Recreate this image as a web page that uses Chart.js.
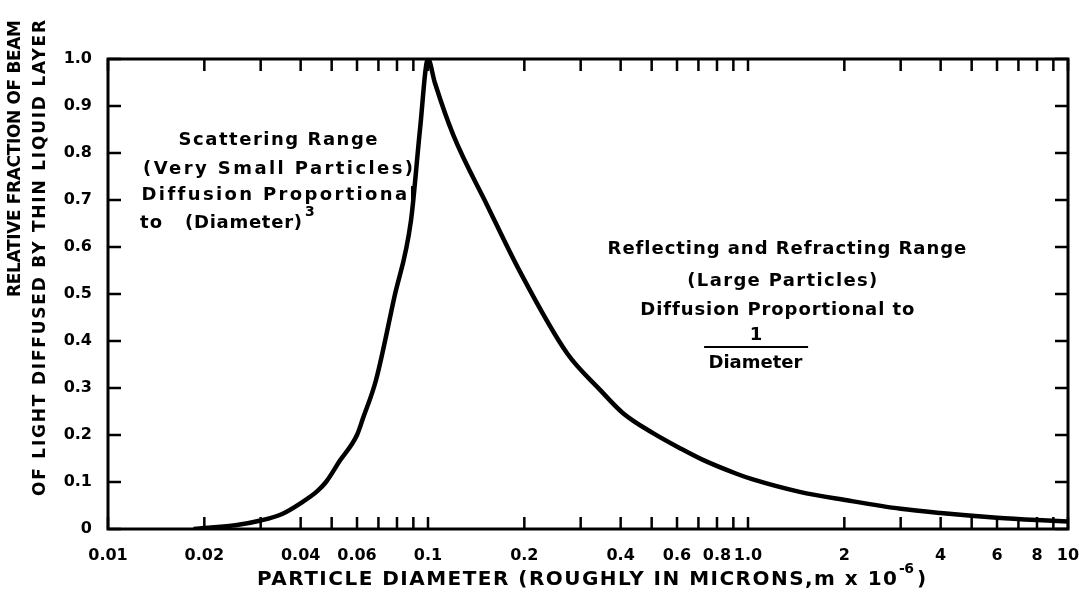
<!DOCTYPE html>
<html>
<head>
<meta charset="utf-8">
<script src="https://cdn.jsdelivr.net/npm/chart.js@4"></script>
<style>
  html, body { margin: 0; padding: 0; background: #fff; }
  canvas { display: block; }
</style>
</head>
<body>
<canvas id="chart" width="1080" height="593"></canvas>
<script>
// particle diameter (microns) and relative fraction of beam diffused
const diameters = [0.0185, 0.02, 0.025, 0.03, 0.035, 0.04, 0.045, 0.048, 0.053, 0.06, 0.0626, 0.0688, 0.0783, 0.0885, 0.0944, 0.1,
  0.105, 0.12, 0.153, 0.194, 0.272, 0.345, 0.406, 0.505, 0.613, 0.723, 0.925, 1.03, 1.45, 2.04, 3.0, 4.0, 6.0, 8.0, 10];
const fractions = [0.0, 0.002, 0.008, 0.018, 0.032, 0.055, 0.08, 0.1, 0.145, 0.2, 0.235, 0.317, 0.49, 0.657, 0.85, 1.0,
  0.95, 0.838, 0.689, 0.547, 0.374, 0.296, 0.247, 0.204, 0.172, 0.147, 0.117, 0.106, 0.079, 0.061, 0.043, 0.034, 0.024, 0.019, 0.016];

const xTickValues = [0.01, 0.02, 0.03, 0.04, 0.05, 0.06, 0.07, 0.08, 0.09, 0.1, 0.2, 0.3, 0.4, 0.5, 0.6, 0.7, 0.8, 0.9,
  1, 2, 3, 4, 5, 6, 7, 8, 9, 10];
const xTickLabels = { 0.01: '0.01', 0.02: '0.02', 0.04: '0.04', 0.06: '0.06', 0.1: '0.1', 0.2: '0.2', 0.4: '0.4',
  0.6: '0.6', 0.8: '0.8', 1: '1.0', 2: '2', 4: '4', 6: '6', 8: '8', 10: '10' };
const yTickValues = [0, 0.1, 0.2, 0.3, 0.4, 0.5, 0.6, 0.7, 0.8, 0.9, 1.0];

const yTitle = ['RELATIVE FRACTION OF BEAM', 'OF LIGHT DIFFUSED BY THIN LIQUID LAYER'];
const xTitle = ['PARTICLE DIAMETER (ROUGHLY IN MICRONS,m x 10', '-6', ')'];
const leftNote = ['Scattering Range', '(Very Small Particles)', 'Diffusion Proportional'];
const rightNote = ['Reflecting and Refracting Range', '(Large Particles)', 'Diffusion Proportional to'];

const FONT = '"DejaVu Sans", sans-serif';

// draw text left-aligned from x so that it spans `width` pixels
function fitText(ctx, text, x, y, width) {
  ctx.letterSpacing = '0px';
  const base = ctx.measureText(text).width;
  ctx.letterSpacing = ((width - base) / Math.max(1, text.length - 1)) + 'px';
  ctx.textAlign = 'left';
  ctx.fillText(text, x, y);
  ctx.letterSpacing = '0px';
}

function fitCentered(ctx, text, cx, y, width) {
  fitText(ctx, text, cx - width / 2, y, width);
}

const decor = {
  id: 'decor',
  afterDraw(chart) {
    const ctx = chart.ctx;
    const a = chart.chartArea;
    const xs = chart.scales.x, ys = chart.scales.y;
    ctx.save();
    ctx.strokeStyle = '#000';
    ctx.fillStyle = '#000';

    // frame
    ctx.lineWidth = 3;
    ctx.strokeRect(a.left, a.top, a.right - a.left, a.bottom - a.top);

    // inward ticks on all four sides
    ctx.lineWidth = 2.5;
    ctx.beginPath();
    xTickValues.forEach(v => {
      const px = xs.getPixelForValue(v);
      ctx.moveTo(px, a.bottom); ctx.lineTo(px, a.bottom - 12);
      ctx.moveTo(px, a.top); ctx.lineTo(px, a.top + 12);
    });
    yTickValues.forEach(v => {
      const py = ys.getPixelForValue(v);
      ctx.moveTo(a.left, py); ctx.lineTo(a.left + 13, py);
      ctx.moveTo(a.right, py); ctx.lineTo(a.right - 13, py);
    });
    ctx.stroke();

    // y title, two rotated lines
    ctx.font = '600 17px ' + FONT;
    ctx.textBaseline = 'middle';
    [[16, 297, 277, yTitle[0]], [41, 496, 476, yTitle[1]]].forEach(([cx, y0, w, t]) => {
      ctx.save();
      ctx.translate(cx, y0);
      ctx.rotate(-Math.PI / 2);
      fitText(ctx, t, 0, 0, w);
      ctx.restore();
    });

    // x title with superscript
    ctx.font = '600 20px ' + FONT;
    fitText(ctx, xTitle[0], 257, 580, 640);
    ctx.font = '600 14px ' + FONT;
    fitText(ctx, xTitle[1], 899, 569, 15);
    ctx.font = '600 20px ' + FONT;
    fitText(ctx, xTitle[2], 917, 580, 6);

    // notes
    ctx.font = '600 18px ' + FONT;
    const lx = xs.getPixelForValue(0.034);
    const ly = [0.826, 0.766, 0.709];
    const lw = [199, 270, 273];
    leftNote.forEach((t, i) => fitCentered(ctx, t, lx, ys.getPixelForValue(ly[i]), lw[i]));
    const ty = ys.getPixelForValue(0.651);
    fitText(ctx, 'to', 140, ty, 22);
    fitText(ctx, '(Diameter)', 185, ty, 117);
    ctx.font = '600 14px ' + FONT;
    ctx.fillText('3', 305, ty - 11);

    ctx.font = '600 18px ' + FONT;
    const rx = [1.32, 1.28, 1.23];
    const ry = [0.594, 0.526, 0.466];
    const rw = [358, 190, 273];
    rightNote.forEach((t, i) => fitCentered(ctx, t, xs.getPixelForValue(rx[i]), ys.getPixelForValue(ry[i]), rw[i]));
    ctx.textAlign = 'center';
    const fx = xs.getPixelForValue(1.06);
    ctx.fillText('1', fx, ys.getPixelForValue(0.413));
    fitCentered(ctx, 'Diameter', xs.getPixelForValue(1.055), ys.getPixelForValue(0.352), 94);
    ctx.lineWidth = 2;
    ctx.beginPath();
    const fy = ys.getPixelForValue(0.387);
    ctx.moveTo(fx - 52, fy); ctx.lineTo(fx + 52, fy);
    ctx.stroke();
    ctx.restore();
  }
};

new Chart(document.getElementById('chart'), {
  type: 'line',
  data: {
    datasets: [{
      data: diameters.map((d, i) => ({ x: d, y: fractions[i] })),
      borderColor: '#000',
      borderWidth: 4.5,
      pointRadius: 0,
      cubicInterpolationMode: 'monotone',
      fill: false
    }]
  },
  options: {
    responsive: false,
    animation: false,
    layout: { padding: { top: 59, right: 12, left: 0, bottom: 0 } },
    plugins: { legend: { display: false }, tooltip: { enabled: false } },
    scales: {
      x: {
        type: 'logarithmic',
        min: 0.01,
        max: 10,
        afterBuildTicks: scale => { scale.ticks = xTickValues.map(v => ({ value: v })); },
        afterFit: scale => { scale.height = 64; scale.paddingLeft = 0; scale.paddingRight = 0; },
        grid: { display: false },
        border: { display: false },
        ticks: {
          autoSkip: false,
          maxRotation: 0,
          padding: 9,
          color: '#000',
          font: { family: FONT, size: 16, weight: '600' },
          callback: v => xTickLabels[v] || ''
        }
      },
      y: {
        min: 0,
        max: 1,
        afterBuildTicks: scale => { scale.ticks = yTickValues.map(v => ({ value: v })); },
        afterFit: scale => { scale.width = 108; scale.paddingTop = 0; scale.paddingBottom = 0; },
        grid: { display: false },
        border: { display: false },
        ticks: {
          padding: 8,
          color: '#000',
          font: { family: FONT, size: 16, weight: '600' },
          callback: v => v === 0 ? '0' : (v === 1 ? '1.0' : v.toFixed(1))
        }
      }
    }
  },
  plugins: [decor]
});
</script>
</body>
</html>
